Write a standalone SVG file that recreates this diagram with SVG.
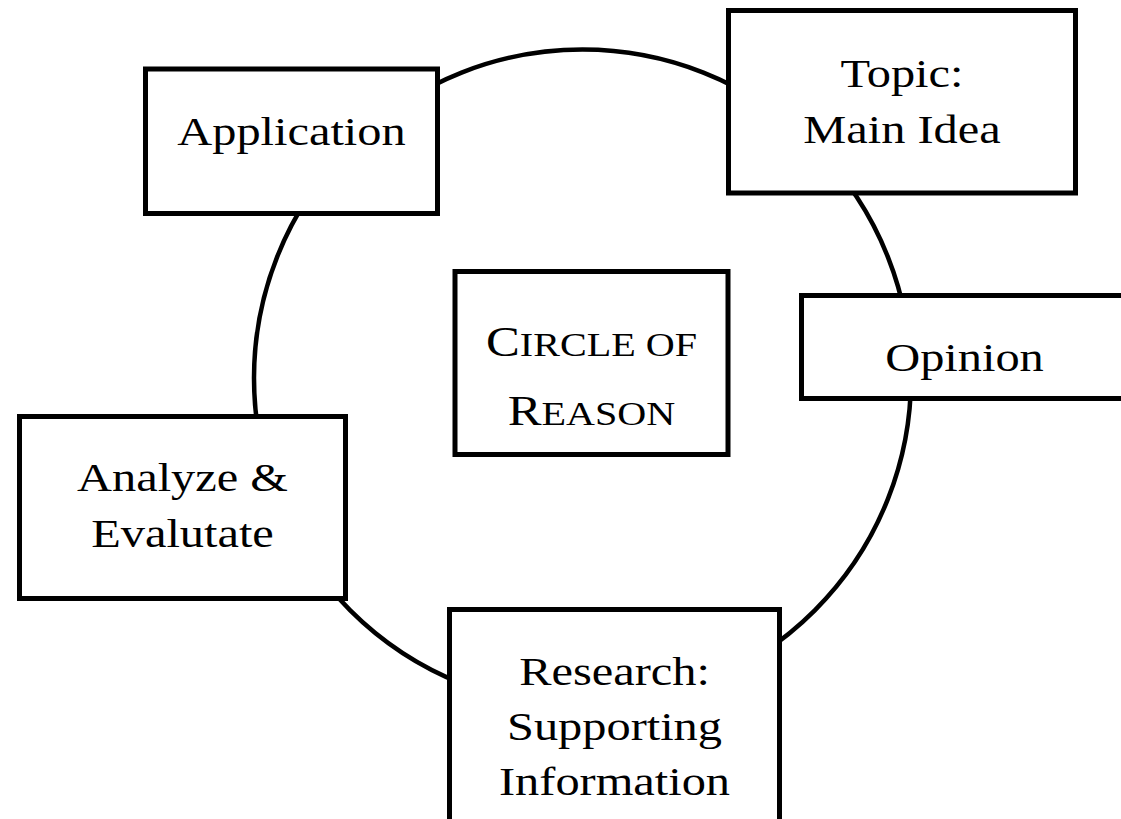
<svg xmlns="http://www.w3.org/2000/svg" width="1121" height="819" viewBox="0 0 1121 819">
  <style>
    .box { fill: #ffffff; stroke: #000000; stroke-width: 5; }
    .ring { fill: none; stroke: #000000; stroke-width: 4.5; }
    .lbl { font-family: "Liberation Serif", "Times New Roman", serif; font-size: 41px; fill: #000000; text-anchor: middle; }
    .cap { font-size: 43px; }
    .sc { font-size: 34px; }
  </style>
  <rect width="1121" height="819" fill="#ffffff"/>

  <!-- the cycle ring joining the steps -->
  <g id="connectors">
    <circle class="ring" cx="582.5" cy="378" r="328.5"/>
  </g>

  <g id="center">
    <rect class="box" x="455" y="271.5" width="273" height="183"/>
    <g transform="translate(591.5,0) scale(1.18,1)">
      <text class="lbl" x="0" y="356"><tspan class="cap">C</tspan><tspan class="sc">IRCLE OF</tspan></text>
      <text class="lbl" x="0" y="425"><tspan class="cap">R</tspan><tspan class="sc">EASON</tspan></text>
    </g>
  </g>

  <g id="application">
    <rect class="box" x="145.5" y="69" width="292" height="144.5"/>
    <text class="lbl" transform="translate(291.5,0) scale(1.18,1)" x="0" y="145">Application</text>
  </g>

  <g id="topic">
    <rect class="box" x="728.5" y="10.5" width="347" height="182.5"/>
    <g transform="translate(902,0) scale(1.18,1)">
      <text class="lbl" x="0" y="87">Topic:</text>
      <text class="lbl" x="0" y="143">Main Idea</text>
    </g>
  </g>

  <g id="opinion">
    <rect class="box" x="801.5" y="295.5" width="326" height="103"/>
    <text class="lbl" transform="translate(964.5,0) scale(1.18,1)" x="0" y="371">Opinion</text>
  </g>

  <g id="analyze">
    <rect class="box" x="19.5" y="416.5" width="326" height="182"/>
    <g transform="translate(182.5,0) scale(1.18,1)">
      <text class="lbl" x="0" y="491">Analyze &amp;</text>
      <text class="lbl" x="0" y="547">Evalutate</text>
    </g>
  </g>

  <g id="research">
    <rect class="box" x="449.5" y="609.5" width="330" height="230"/>
    <g transform="translate(614.5,0) scale(1.18,1)">
      <text class="lbl" x="0" y="685">Research:</text>
      <text class="lbl" x="0" y="740">Supporting</text>
      <text class="lbl" x="0" y="795">Information</text>
    </g>
  </g>
</svg>
